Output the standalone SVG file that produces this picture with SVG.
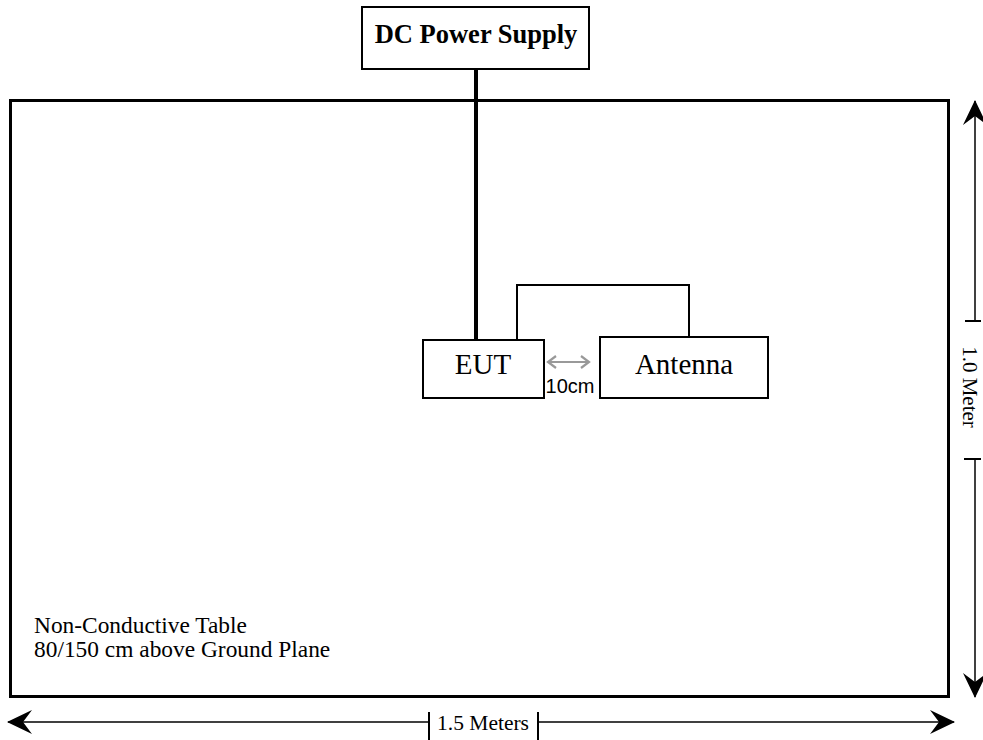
<svg xmlns="http://www.w3.org/2000/svg" width="983" height="740" viewBox="0 0 983 740">
<style>
.box{fill:#fff;stroke:#000;stroke-width:2}
.serif{font-family:"Liberation Serif","Times New Roman",serif;fill:#000}
.dim{stroke:#000;stroke-width:1.5;fill:none}
.tick{stroke:#000;stroke-width:2}
</style>
<defs>
<marker id="bigArrow" viewBox="-26 -14 28 28" refX="0" refY="0" markerWidth="28" markerHeight="28" markerUnits="userSpaceOnUse" orient="auto">
<path d="M1,0 L-24,-12 L-15,0 L-24,12 Z" fill="#000"/>
</marker>
<marker id="grayArrow" viewBox="-10 -8 12 16" refX="0" refY="0" markerWidth="12" markerHeight="16" markerUnits="userSpaceOnUse" orient="auto-start-reverse">
<path d="M-8,-6 L0,0 L-8,6" fill="none" stroke="#999" stroke-width="2.2"/>
</marker>
</defs>
<rect id="table" x="10.5" y="100.5" width="938" height="596" fill="#fff" stroke="#000" stroke-width="3"/>
<g id="connectors">
<line x1="476" y1="69" x2="476" y2="340" stroke="#000" stroke-width="4"/>
<polyline points="517,340 517,285 689,285 689,337" fill="none" stroke="#000" stroke-width="2"/>
<line x1="548" y1="362" x2="589" y2="362" stroke="#999" stroke-width="2.2" marker-start="url(#grayArrow)" marker-end="url(#grayArrow)"/>
</g>
<g id="dc-power-supply">
<rect class="box" x="362" y="7" width="227" height="62"/>
<text class="serif" x="476" y="43" font-size="26.5" font-weight="bold" text-anchor="middle">DC Power Supply</text>
</g>
<g id="eut">
<rect class="box" x="423" y="340" width="121" height="58"/>
<text class="serif" x="483" y="374" font-size="29" text-anchor="middle">EUT</text>
</g>
<g id="antenna">
<rect class="box" x="600" y="337" width="168" height="61"/>
<text class="serif" x="684" y="374" font-size="29" text-anchor="middle">Antenna</text>
</g>
<text x="570" y="393" font-family="'Liberation Sans',Arial,sans-serif" font-size="20" text-anchor="middle" fill="#000">10cm</text>
<g id="table-label">
<text class="serif" x="34" y="633" font-size="23.4">Non-Conductive Table</text>
<text class="serif" x="34" y="657" font-size="23.4">80/150 cm above Ground Plane</text>
</g>
<g id="dimension-width">
<line class="dim" x1="429" y1="722" x2="8" y2="722" marker-end="url(#bigArrow)"/>
<line class="dim" x1="538" y1="722" x2="954" y2="722" marker-end="url(#bigArrow)"/>
<line class="tick" x1="429" y1="712" x2="429" y2="740"/>
<line class="tick" x1="538" y1="712" x2="538" y2="740"/>
<text class="serif" x="483" y="730" font-size="21.5" text-anchor="middle">1.5 Meters</text>
</g>
<g id="dimension-height">
<line class="dim" x1="975" y1="321" x2="975" y2="101" marker-end="url(#bigArrow)"/>
<line class="dim" x1="975" y1="459" x2="975" y2="697" marker-end="url(#bigArrow)"/>
<line class="tick" x1="965" y1="321" x2="981" y2="321"/>
<line class="tick" x1="964" y1="459" x2="981" y2="459"/>
<text class="serif" transform="translate(963,387) rotate(90)" font-size="21" text-anchor="middle">1.0 Meter</text>
</g>
</svg>
